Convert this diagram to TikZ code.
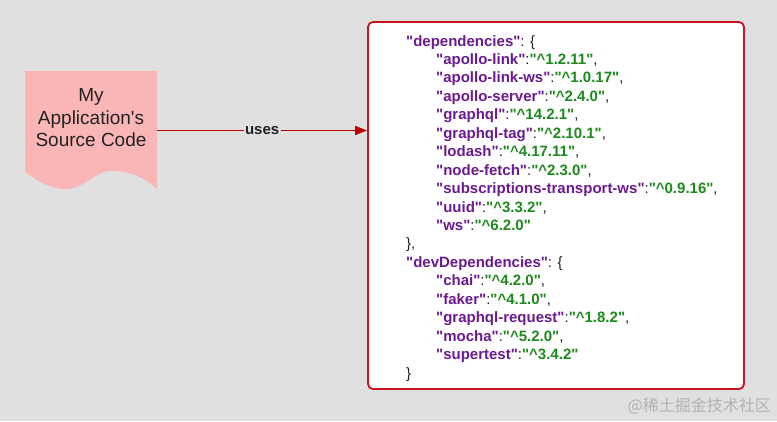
\documentclass[tikz,border=0pt]{standalone}
\usepackage{fontspec}
\setmainfont{Liberation Sans}[Ligatures=TeXOff]
\newfontfamily\cjkfont{Noto Sans CJK SC}
\usetikzlibrary{arrows.meta}
\definecolor{bg}{HTML}{E0E0E0}
\definecolor{docpink}{HTML}{FAB6B6}
\definecolor{boxred}{HTML}{C8141E}
\definecolor{arrred}{HTML}{C00000}
\definecolor{jpurple}{HTML}{6B1A8F}
\definecolor{jgreen}{HTML}{1C8A1C}
\definecolor{ink}{HTML}{222222}
\definecolor{wm}{HTML}{B2B2B2}
\newcommand\jk[1]{{\color{jpurple}\bfseries"#1"}}
\newcommand\jv[1]{{\color{jgreen}\bfseries"\textasciicircum#1"}}
\tikzset{
  jline/.style={anchor=base west, inner sep=0pt, text=ink, font=\fontsize{15}{18}\selectfont},
  doctext/.style={anchor=base, inner sep=0pt, text=ink, font=\fontsize{19}{22.5}\selectfont},
  conn/.style={draw=arrred, line width=1.5pt, -{Triangle[length=12pt,width=9pt]}},
  lbl/.style={fill=bg, inner sep=1.5pt, text=ink, font=\bfseries\fontsize{15}{18}\selectfont},
  depbox/.style={draw=boxred, line width=1.8pt, fill=white, rounded corners=5pt,
    minimum width=376pt, minimum height=367pt, inner sep=0pt}
}
\begin{document}
\begin{tikzpicture}[x=1pt,y=-1pt]
\useasboundingbox (0,0) rectangle (777,421);
\fill[bg] (0,0) rectangle (777,421);

% document shape
\fill[docpink] (25,71) -- (157,71) -- (157,189)
  .. controls (145,178) and (130,171) .. (112,171)
  .. controls (95,171) and (85,189) .. (65,189)
  .. controls (52,189) and (40,183) .. (25,172) -- cycle;
\node[minimum width=132pt, minimum height=118pt, inner sep=0pt] (doc) at (91,130.5) {};
\node[doctext] (t1) at (91,101.7) {My};
\node[doctext] (t2) at (91,124.2) {Application's};
\node[doctext] (t3) at (91,146.7) {Source Code};

% dependency box
\node[depbox] (deps) at (556,205.5) {};

\draw[conn] (doc.east) -- node[lbl] (uses) {uses} (doc.east -| deps.west);

% JSON text
\node[jline] (j0) at (406,46) {\jk{dependencies}: \{};
\node[jline] (j1) at (436,64.45) {\jk{apollo-link}:\jv{1.2.11},};
\node[jline] (j2) at (436,82.9) {\jk{apollo-link-ws}:\jv{1.0.17},};
\node[jline] (j3) at (436,101.35) {\jk{apollo-server}:\jv{2.4.0},};
\node[jline] (j4) at (436,119.8) {\jk{graphql}:\jv{14.2.1},};
\node[jline] (j5) at (436,138.25) {\jk{graphql-tag}:\jv{2.10.1},};
\node[jline] (j6) at (436,156.7) {\jk{lodash}:\jv{4.17.11},};
\node[jline] (j7) at (436,175.15) {\jk{node-fetch}:\jv{2.3.0},};
\node[jline] (j8) at (436,193.6) {\jk{subscriptions-transport-ws}:\jv{0.9.16},};
\node[jline] (j9) at (436,212.05) {\jk{uuid}:\jv{3.3.2},};
\node[jline] (j10) at (436,230.5) {\jk{ws}:\jv{6.2.0}};
\node[jline] (j11) at (406,248.95) {\},};
\node[jline] (j12) at (406,267.4) {\jk{devDependencies}: \{};
\node[jline] (j13) at (436,285.85) {\jk{chai}:\jv{4.2.0},};
\node[jline] (j14) at (436,304.3) {\jk{faker}:\jv{4.1.0},};
\node[jline] (j15) at (436,322.75) {\jk{graphql-request}:\jv{1.8.2},};
\node[jline] (j16) at (436,341.2) {\jk{mocha}:\jv{5.2.0},};
\node[jline] (j17) at (436,359.65) {\jk{supertest}:\jv{3.4.2}};
\node[jline] (j18) at (406,378.1) {\}};

% watermark
\node[anchor=east, inner sep=0pt, text=wm, font=\cjkfont\fontsize{16}{19}\selectfont] (wmark) at (771,406) {@稀土掘金技术社区};
\end{tikzpicture}
\end{document}
